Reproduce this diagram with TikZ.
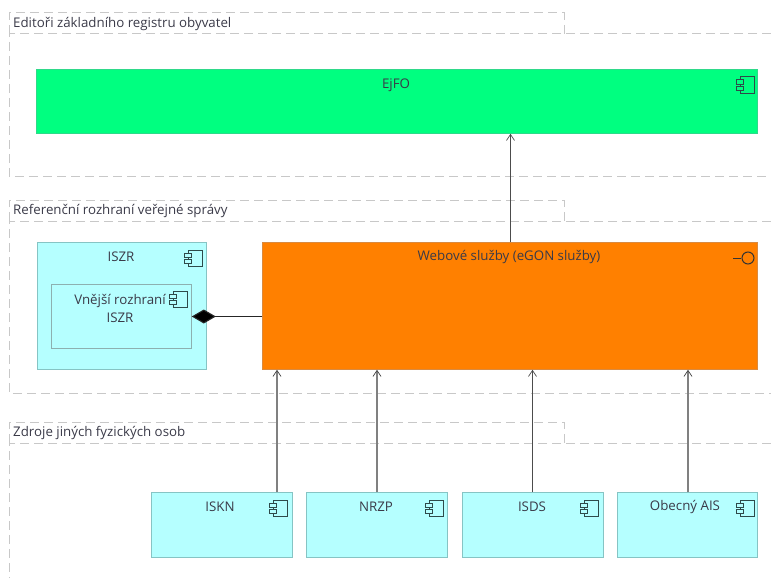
\documentclass[tikz,border=0pt]{standalone}
\usepackage{fontspec}
\setmainfont{Open Sans}
\usetikzlibrary{arrows.meta}
\definecolor{grpline}{HTML}{C8C8C8}
\definecolor{cyanfill}{HTML}{B5FFFF}
\definecolor{cyanline}{HTML}{86C4C4}
\definecolor{innerline}{HTML}{8DB0B0}
\definecolor{greenfill}{HTML}{00FF80}
\definecolor{greenline}{HTML}{2FD98A}
\definecolor{orangefill}{HTML}{FF8000}
\definecolor{orangeline}{HTML}{D98A40}
\definecolor{txt}{HTML}{3A3A48}
\definecolor{iconcol}{HTML}{2E4A4A}
\tikzset{
  grp/.style={draw=grpline,line width=1pt,dash pattern=on 9pt off 5pt},
  box/.style={draw,line width=0.8pt,inner sep=0pt,anchor=north west},
  comp/.style={box,fill=cyanfill,draw=cyanline},
  lab/.style={font=\fontsize{13.3pt}{18pt}\selectfont,text=txt,inner sep=0pt,align=center},
  grplab/.style={lab,anchor=west},
  conn/.style={draw=black!70,line width=1.1pt,-{Straight Barb[length=6pt,width=8pt,line width=0.7pt]}},
  conn2/.style={draw=black!50,line width=2.2pt,-{Straight Barb[length=6pt,width=8pt,line width=0.7pt,black!75]}},
  icon/.pic={
    \draw[line width=1pt,draw=iconcol] (-11,-8) rectangle (3,8);
    \draw[line width=1pt,draw=iconcol,fill=#1] (-15,-5) rectangle (-8,-1);
    \draw[line width=1pt,draw=iconcol,fill=#1] (-15,1) rectangle (-8,5);
  },
  icon/.default=cyanfill
}
\begin{document}
\begin{tikzpicture}[x=1pt,y=-1pt]
\useasboundingbox (0,0) rectangle (771,578);
% groups
\draw[grp] (9,34) -- (9,13) -- (564,13) -- (564,34);
\draw[grp] (771,34) -- (9,34) -- (9,176) -- (771,176);
\draw[grp] (9,221) -- (9,200) -- (564,200) -- (564,221);
\draw[grp] (771,221) -- (9,221) -- (9,393) -- (771,393);
\draw[grp] (9,443) -- (9,422) -- (564,422) -- (564,443);
\draw[grp] (771,443) -- (9,443) -- (9,578);
\node[grplab] (g1) at (13,24) {Editoři základního registru obyvatel};
\node[grplab] (g2) at (13,211.5) {Referenční rozhraní veřejné správy};
\node[grplab] (g3) at (13,433) {Zdroje jiných fyzických osob};
% boxes
\node[box,fill=greenfill,draw=greenline,minimum width=721pt,minimum height=64pt] (ejfo) at (36,69) {};
\node[comp,minimum width=169pt,minimum height=127pt] (iszr) at (37,242) {};
\node[box,fill=cyanfill,draw=innerline,line width=0.8pt,minimum width=140pt,minimum height=64pt] (vnejsi) at (51,284) {};
\node[box,fill=orangefill,draw=orangeline,minimum width=495pt,minimum height=127pt] (web) at (262,242) {};
\node[comp,minimum width=141pt,minimum height=65pt] (iskn) at (151,492) {};
\node[comp,minimum width=141pt,minimum height=65pt] (nrzp) at (306,492) {};
\node[comp,minimum width=141pt,minimum height=65pt] (isds) at (462,492) {};
\node[comp,minimum width=140pt,minimum height=65pt] (ais) at (617,492) {};
% labels
\node[lab] (lejfo) at (396,85) {EjFO};
\node[lab] (liszr) at (121,257) {ISZR};
\node[lab] (lvn) at (120,308) {Vnější rozhraní\\ISZR};
\node[lab] (lweb) at (509,257) {Webové služby (eGON služby)};
\node[lab] (liskn) at (220,507) {ISKN};
\node[lab] (lnrzp) at (376,507) {NRZP};
\node[lab] (lisds) at (532,507) {ISDS};
\node[lab] (lais) at (685,507) {Obecný AIS};
% icons
\pic at (751,85) {icon=greenfill};
\pic at (199,258) {icon=cyanfill};
\pic at (184,299.5) {icon=cyanfill};
\pic at (284,508) {icon=cyanfill};
\pic at (440,508) {icon=cyanfill};
\pic at (595,508) {icon=cyanfill};
\pic at (751,508) {icon=cyanfill};
% interface icon
\draw[line width=1pt,draw=black!80] (733,258) -- (741,258);
\draw[line width=1pt,draw=black!80] (748,258) circle (6);
% connectors
\draw[conn] (web.north -| 510.5,0) -- (ejfo.south -| 510.5,0);
\draw[conn2] (iskn.north -| 277,0) -- (web.south -| 277,0);
\draw[conn2] (nrzp.north -| 377,0) -- (web.south -| 377,0);
\draw[conn] (isds.north -| 532.5,0) -- (web.south -| 532.5,0);
\draw[conn2] (ais.north -| 688,0) -- (web.south -| 688,0);
\draw[draw=black!85,line width=1.1pt,-{Diamond[length=24pt,width=14pt,fill=black]}] (web.west |- 0,316.5) -- (vnejsi.east |- 0,316.5);
\end{tikzpicture}
\end{document}
